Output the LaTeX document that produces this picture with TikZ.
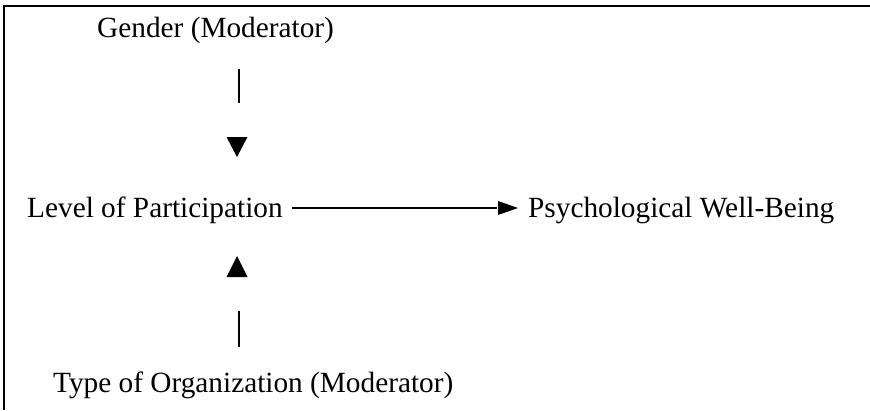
\documentclass[tikz,border=0pt]{standalone}
\usepackage{fontspec}
\setmainfont{Liberation Serif}
\begin{document}
\begin{tikzpicture}[x=1pt,y=-1pt,
  lbl/.style={inner sep=0pt, anchor=base west, font=\fontsize{29.3}{32}\selectfont, text=black},
  frameline/.style={line width=2pt, black},
  conn/.style={line width=1.6pt, black},
  tri/.style={fill=black, draw=none}]
\useasboundingbox (0,0) rectangle (870,410);
% frame (top and left edges only)
\draw[frameline] (4,410) -- (4,6) -- (870,6);
% labels
\node[lbl] (gender) at (97,37) {Gender (Moderator)};
\node[lbl] (lop) at (27,217) {Level of Participation};
\node[lbl] (pwb) at (528,217) {Psychological Well-Being};
\node[lbl] (type) at (53,392) {Type of Organization (Moderator)};
% top moderator connector
\coordinate (g1) at (239,69);
\coordinate (g2) at (239,103);
\draw[conn] (g1) -- (g2);
\fill[tri] (226.5,137) -- (247.5,137) -- (237,157) -- cycle;
% bottom moderator connector
\coordinate (t1) at (239,311);
\coordinate (t2) at (239,347);
\draw[conn] (t1) -- (t2);
\fill[tri] (226.5,277) -- (247.5,277) -- (237,256) -- cycle;
% main path
\coordinate (a1) at (292,208);
\coordinate (a2) at (497,208);
\draw[conn] (a1) -- (a2);
\fill[tri] (498,201) -- (518,208) -- (498,215) -- cycle;
\end{tikzpicture}
\end{document}
